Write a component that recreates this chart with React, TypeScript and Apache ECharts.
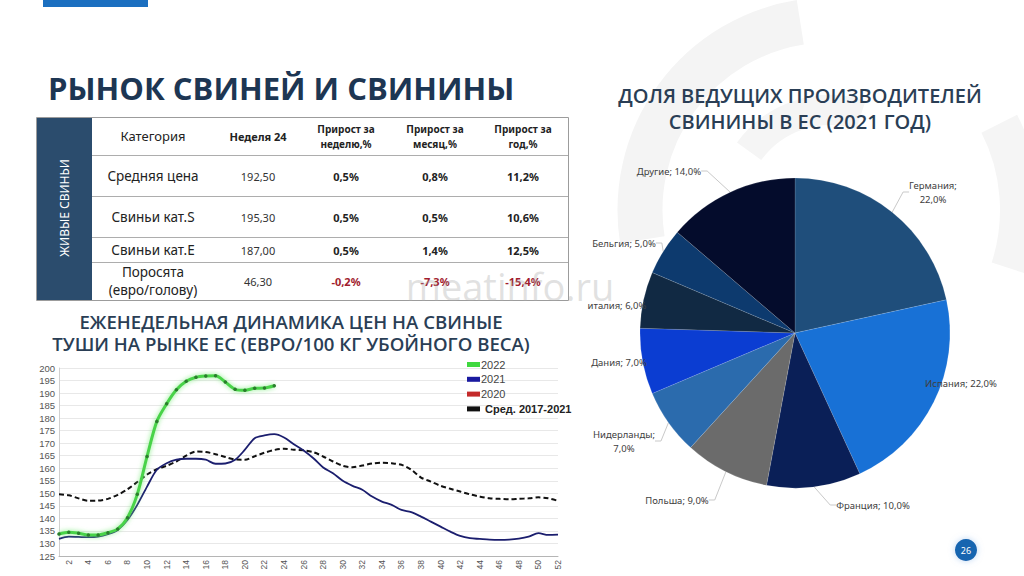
import React, { useEffect, useRef } from "react";
import * as echarts from "echarts";

// ---------- DATA ----------
const weeks = Array.from({ length: 52 }, (_, i) => String(i + 1));

const s2022 = [133.8, 134.5, 134.1, 133.4, 133.4, 134.3, 135.8, 140.3, 149.6, 164.7, 178.7, 185.7, 191.3, 194.7, 196.3, 196.8, 196.9, 194.4, 191.5, 191.1, 191.9, 192.0, 192.9];
const s2021 = [131.8, 132.7, 132.6, 132.5, 132.7, 133.7, 135.4, 139.4, 145.4, 152.7,
  159.4, 162.0, 163.4, 163.8, 163.8, 163.4, 161.8, 161.9, 163.4, 167.4,
  172.0, 173.1, 173.6, 172.3, 169.6, 167.1, 164.0, 160.3, 158.0, 155.0,
  153.0, 151.4, 148.7, 146.7, 145.4, 143.4, 142.5, 140.7, 138.7, 136.7,
  134.7, 133.0, 132.1, 131.8, 131.5, 131.4, 131.5, 131.9, 132.7, 134.1, 133.4, 133.5];
const s2020: number[] = [];
const sAvg = [149.6, 149.2, 148.0, 147.0, 147.1, 147.8, 149.4, 151.6, 154.5, 157.5,
  159.6, 161.0, 162.7, 165.0, 166.7, 166.5, 165.6, 164.5, 163.5, 163.4,
  164.8, 166.2, 167.3, 167.8, 167.4, 167.2, 166.4, 164.7, 162.7, 161.0,
  160.4, 161.1, 161.9, 162.2, 162.0, 161.4, 159.4, 156.3, 154.7, 153.0,
  151.8, 150.7, 149.6, 148.7, 148.0, 147.8, 147.6, 147.8, 148.0, 148.4, 148.0, 147.0];

const tableHeader = ["Категория", "Неделя 24", "Прирост за\nнеделю,%", "Прирост за\nмесяц,%", "Прирост за\nгод,%"];
const tableCategories = ["Средняя цена", "Свиньи кат.S", "Свиньи кат.E", "Поросята\n(евро/голову)"];
const week24Values = ["192,50", "195,30", "187,00", "46,30"];
const weekGrowth = [0.5, 0.5, 0.5, -0.2];
const monthGrowth = [0.8, 0.5, 1.4, -7.3];
const yearGrowth = [11.2, 10.6, 12.5, -15.4];

const pieNames = ["Германия", "Испания", "Франция", "Польша", "Нидерланды", "Дания", "италия", "Бельгия", "Другие"];
const pieValues = [22, 22, 10, 9, 7, 7, 6, 5, 14];

// ---------- LAYOUT / STYLE ----------
const pieColors = ["#1f4e7b", "#1871d6", "#0a1f57", "#6b6b6b", "#2b6bad", "#0b3dd2", "#112943", "#0d3a6e", "#040c2c"];
const pieLabelPos = [
  [933, 192], [961, 383], [873, 505], [677, 500], [624, 441], [619, 362], [617, 305], [624, 243], [669, 171],
];
const twoLineLabels = ["Германия", "Нидерланды"];
const colX = [153, 258, 346, 435, 523];
const rowY = [176, 217, 250, 281];
const headerY = 136;
const rowLines = [155.5, 196.5, 237.5, 262.5];

const fmtPct = (v: number) => v.toFixed(1).replace(".", ",") + "%";

export default function App() {
  const ref = useRef<HTMLDivElement>(null);
  useEffect(() => {
    if (!ref.current) return;
    const chart = echarts.init(ref.current, null, { renderer: "svg" });
    const FONT = '"Noto Sans", "Open Sans", sans-serif';
    const titleColor = "#1d3653";

    const graphic: any[] = [];
    // background decoration
    graphic.push({
      type: "arc", z: -10, silent: true,
      shape: { cx: 830, cy: 210, r: 190, startAngle: Math.PI * 0.95, endAngle: Math.PI * 1.45 },
      style: { stroke: "#f4f4f4", lineWidth: 45, fill: "none" },
    });
    graphic.push({
      type: "arc", z: -10, silent: true,
      shape: { cx: 830, cy: 210, r: 100, startAngle: Math.PI * 1.2, endAngle: Math.PI * 1.6 },
      style: { stroke: "#f5f5f5", lineWidth: 30, fill: "none" },
    });
    graphic.push({
      type: "arc", z: -10, silent: true,
      shape: { cx: 830, cy: 210, r: 190, startAngle: Math.PI * 1.85, endAngle: Math.PI * 2.1 },
      style: { stroke: "#f5f5f5", lineWidth: 40, fill: "none" },
    });
    // top blue bar
    graphic.push({ type: "rect", shape: { x: 43, y: 0, width: 105, height: 7 }, style: { fill: "#1b6fc0" } });
    // main title
    graphic.push({
      type: "text", x: 48, y: 88,
      style: { text: "РЫНОК СВИНЕЙ И СВИНИНЫ", fill: titleColor, font: `bold 31px "Open Sans", sans-serif`, align: "left", verticalAlign: "middle" },
    });
    // table frame
    graphic.push({ type: "rect", shape: { x: 36.5, y: 117.5, width: 532, height: 183 }, style: { fill: "#fff", stroke: "#9c9c9c", lineWidth: 1 } });
    graphic.push({ type: "rect", shape: { x: 37, y: 118, width: 55, height: 182 }, style: { fill: "#2b4c6d" } });
    rowLines.forEach((ly) => {
      graphic.push({ type: "line", shape: { x1: 92, y1: ly, x2: 568, y2: ly }, style: { stroke: "#adadad", lineWidth: 1 } });
    });
    graphic.push({
      type: "text", x: 64, y: 208, rotation: Math.PI / 2,
      style: { text: "ЖИВЫЕ СВИНЬИ", fill: "#ffffff", font: `12px ${FONT}`, align: "center", verticalAlign: "middle" },
    });
    // header
    tableHeader.forEach((h, i) => {
      graphic.push({
        type: "text", x: colX[i], y: headerY,
        style: {
          text: h, fill: "#222",
          font: i === 0 ? `13px ${FONT}` : `bold ${i === 1 ? 11 : 10}px ${FONT}`,
          lineHeight: 15, align: "center", verticalAlign: "middle",
        },
      });
    });
    // rows
    tableCategories.forEach((c, r) => {
      const y = rowY[r];
      graphic.push({ type: "text", x: colX[0], y, style: { text: c, fill: "#222", font: `13.5px ${FONT}`, lineHeight: 18, align: "center", verticalAlign: "middle" } });
      graphic.push({ type: "text", x: colX[1], y, style: { text: week24Values[r], fill: "#333", font: `11px ${FONT}`, align: "center", verticalAlign: "middle" } });
      [weekGrowth[r], monthGrowth[r], yearGrowth[r]].forEach((v, k) => {
        graphic.push({
          type: "text", x: colX[2 + k], y,
          style: { text: fmtPct(v), fill: v < 0 ? "#a11d2e" : "#222", font: `bold 11px ${FONT}`, align: "center", verticalAlign: "middle" },
        });
      });
    });
    // subtitle for line chart
    graphic.push({
      type: "text", x: 291, y: 332,
      style: {
        text: "ЕЖЕНЕДЕЛЬНАЯ ДИНАМИКА ЦЕН НА СВИНЫЕ\nТУШИ НА РЫНКЕ ЕС (ЕВРО/100 КГ УБОЙНОГО ВЕСА)",
        fill: "#2a3e55", font: `600 18.6px "Open Sans", sans-serif`, lineHeight: 22, align: "center", verticalAlign: "middle",
      },
    });
    // pie title
    graphic.push({
      type: "text", x: 800, y: 108,
      style: {
        text: "ДОЛЯ ВЕДУЩИХ ПРОИЗВОДИТЕЛЕЙ\nСВИНИНЫ В ЕС (2021 ГОД)",
        fill: "#2a3e55", font: `600 20px "Open Sans", sans-serif`, lineHeight: 26, align: "center", verticalAlign: "middle",
      },
    });
    // watermark
    graphic.push({
      type: "text", x: 510, y: 286, z: 200, silent: true,
      style: { text: "meatinfo.ru", fill: "rgba(170,170,170,0.35)", font: `38px "Open Sans", sans-serif`, align: "center", verticalAlign: "middle" },
    });
    // page number
    graphic.push({ type: "circle", shape: { cx: 966, cy: 550, r: 11 }, style: { fill: "#1565b0", shadowBlur: 6, shadowColor: "rgba(120,170,230,0.5)" } });
    graphic.push({ type: "text", x: 966, y: 550, style: { text: "26", fill: "#fff", font: `9px ${FONT}`, align: "center", verticalAlign: "middle" } });

    const legendFont = '"Liberation Sans", Arial, sans-serif';
    const option: any = {
      animation: false,
      backgroundColor: "#ffffff",
      graphic,
      grid: { left: 59, right: 466, top: 368, bottom: 20, containLabel: false },
      legend: {
        data: [
          { name: "2022", itemStyle: { color: "#3fd83f" } },
          { name: "2021", itemStyle: { color: "#1a1aa0" } },
          { name: "2020", itemStyle: { color: "#c42a2a" } },
          { name: "Сред. 2017-2021", itemStyle: { color: "#111" } },
        ],
        orient: "vertical", left: 462, top: 354, itemGap: 3.8,
        itemWidth: 13, itemHeight: 5, icon: "rect",
        textStyle: {
          fontSize: 11, color: "#444", fontFamily: legendFont, padding: [0, 0, 0, -4],
          rich: { b: { fontWeight: "bold", fontSize: 11, color: "#222", fontFamily: legendFont, padding: [0, 0, 0, 4] } },
        },
        formatter: (name: string) => (name.startsWith("Сред") ? `{b|${name}}` : name),
      },
      xAxis: {
        type: "category", data: weeks, boundaryGap: false,
        axisLine: { lineStyle: { color: "#b5b5b5" } },
        axisTick: { show: false },
        axisLabel: { interval: (i: number) => i % 2 === 1, rotate: 90, fontSize: 8.5, color: "#555", margin: 4 },
      },
      yAxis: {
        type: "value", min: 125, max: 200, interval: 5,
        axisLine: { show: true, lineStyle: { color: "#d0d0d0" } },
        axisTick: { show: false },
        axisLabel: { fontSize: 9.5, color: "#555", margin: 4 },
        splitLine: { lineStyle: { color: "#e8e8e8" } },
      },
      series: [
        {
          name: "2022", type: "line", data: s2022, smooth: 0.3,
          symbol: "circle", symbolSize: 3.5,
          lineStyle: { color: "#49d34a", width: 3, shadowBlur: 5, shadowColor: "rgba(120,235,120,0.9)" },
          itemStyle: { color: "#2a7e2c" }, z: 5,
        },
        {
          name: "2021", type: "line", data: s2021, smooth: 0.3, showSymbol: false,
          lineStyle: { color: "#1b1e6e", width: 1.8 }, itemStyle: { color: "#1b1e96" }, z: 4,
        },
        {
          name: "2020", type: "line", data: s2020, showSymbol: false,
          lineStyle: { color: "#c42a2a", width: 2 }, itemStyle: { color: "#c42a2a" },
        },
        {
          name: "Сред. 2017-2021", type: "line", data: sAvg, smooth: 0.3, showSymbol: false,
          lineStyle: { color: "#111", width: 2, type: [5, 3] }, itemStyle: { color: "#111" }, z: 3,
        },
        {
          type: "pie", center: [795, 333], radius: 155, startAngle: 90, clockwise: true,
          data: pieNames.map((n, i) => ({ name: n, value: pieValues[i], itemStyle: { color: pieColors[i] } })),
          label: {
            show: true, position: "outside", color: "#404040", fontSize: 9.5, lineHeight: 14,
            fontFamily: FONT, overflow: "none",
            formatter: (p: any) => `${p.name};${twoLineLabels.includes(p.name) ? "\n" : " "}${fmtPct(p.value)}`,
          },
          labelLine: { show: true, length: 6, length2: 6, lineStyle: { color: "#c9c9c9", width: 1 } },
          labelLayout: (p: any) => {
            const pos = pieLabelPos[p.dataIndex];
            return { x: pos[0], y: pos[1], align: "center", verticalAlign: "middle" };
          },
          itemStyle: { borderColor: "rgba(255,255,255,0.25)", borderWidth: 0.5 },
        },
      ],
    };
    chart.setOption(option);
    return () => chart.dispose();
  }, []);
  return <div ref={ref} style={{ position: "fixed", left: 0, top: 0, width: 1024, height: 576, background: "#fff" }} />;
}
